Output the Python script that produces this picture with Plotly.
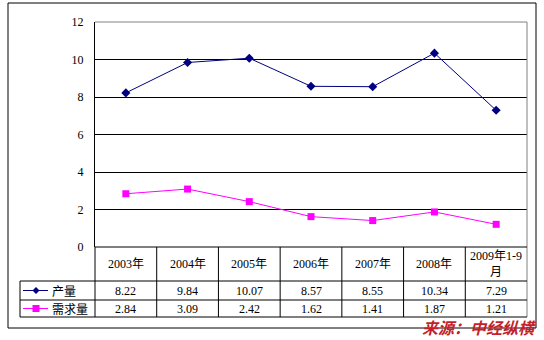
import plotly.graph_objects as go

categories = ["2003年", "2004年", "2005年", "2006年", "2007年", "2008年", "2009年1-9<br>月"]
production = [8.22, 9.84, 10.07, 8.57, 8.55, 10.34, 7.29]
demand = [2.84, 3.09, 2.42, 1.62, 1.41, 1.87, 1.21]
series_names = ["产量", "需求量"]
y_ticks = [0, 2, 4, 6, 8, 10, 12]

W, H = 544, 340
def px(x):
    return x / W
def py(y):
    return 1 - y / H

# layout in pixels
PL, PR, PT, PB = 95, 527, 22, 247
TBL_LEFT = 20
ROW1, ROW2, ROW3 = 281, 300, 317

FONT = "Liberation Serif, Noto Sans CJK SC, serif"
CJK = "Noto Sans CJK SC, sans-serif"
NAVY = "#000080"
MAG = "#ff00ff"

xs = list(range(len(categories)))

fig = go.Figure()
fig.add_trace(go.Scatter(x=xs, y=production, mode="lines+markers", name=series_names[0],
                         line=dict(color=NAVY, width=1),
                         marker=dict(symbol="diamond", size=7, color=NAVY)))
fig.add_trace(go.Scatter(x=xs, y=demand, mode="lines+markers", name=series_names[1],
                         line=dict(color=MAG, width=1),
                         marker=dict(symbol="square", size=7, color=MAG)))

shapes = []
# outer border
shapes.append(dict(type="rect", xref="paper", yref="paper", x0=px(8), x1=px(536), y0=py(328), y1=py(3),
                   line=dict(color="black", width=1)))
# plot top and right border (gray)
shapes.append(dict(type="line", xref="paper", yref="paper", x0=px(PL), x1=px(PR), y0=py(PT), y1=py(PT),
                   line=dict(color="#808080", width=1)))
shapes.append(dict(type="line", xref="paper", yref="paper", x0=px(PR), x1=px(PR), y0=py(ROW3), y1=py(PT),
                   line=dict(color="#808080", width=1)))
# table horizontal lines
for yy, x0 in [(PB, PL), (ROW1, TBL_LEFT), (ROW2, TBL_LEFT), (ROW3, TBL_LEFT)]:
    shapes.append(dict(type="line", xref="paper", yref="paper", x0=px(x0), x1=px(PR), y0=py(yy), y1=py(yy),
                       line=dict(color="black", width=1)))
# table vertical lines
ncat = len(categories)
for i in range(ncat):
    xx = PL + (PR - PL) * i / ncat
    shapes.append(dict(type="line", xref="paper", yref="paper", x0=px(xx), x1=px(xx), y0=py(ROW3), y1=py(PB),
                       line=dict(color="black", width=1)))
shapes.append(dict(type="line", xref="paper", yref="paper", x0=px(TBL_LEFT), x1=px(TBL_LEFT), y0=py(ROW3), y1=py(ROW1),
                   line=dict(color="black", width=1)))
# legend symbols
for (yy, color, sym) in [((ROW1 + ROW2) / 2, NAVY, "diamond"), ((ROW2 + ROW3) / 2, MAG, "square")]:
    shapes.append(dict(type="line", xref="paper", yref="paper", x0=px(23), x1=px(48), y0=py(yy), y1=py(yy),
                       line=dict(color=color, width=1)))
    cx = 36
    if sym == "diamond":
        path = f"M {px(cx-3.5)},{py(yy)} L {px(cx)},{py(yy-3.5)} L {px(cx+3.5)},{py(yy)} L {px(cx)},{py(yy+3.5)} Z"
        shapes.append(dict(type="path", xref="paper", yref="paper", path=path, fillcolor=color,
                           line=dict(color=color, width=0)))
    else:
        shapes.append(dict(type="rect", xref="paper", yref="paper", x0=px(cx-3.5), x1=px(cx+3.5),
                           y0=py(yy+3.5), y1=py(yy-3.5), fillcolor=color, line=dict(color=color, width=0)))

annotations = []
for i, c in enumerate(categories):
    annotations.append(dict(x=i, y=py((PB + ROW1) / 2), xref="x", yref="paper", text=c, showarrow=False,
                            font=dict(family=FONT, size=12, color="black"), xanchor="center", yanchor="middle"))
    annotations.append(dict(x=i, y=py((ROW1 + ROW2) / 2), xref="x", yref="paper", text=f"{production[i]:.2f}",
                            showarrow=False, font=dict(family=FONT, size=12, color="black"),
                            xanchor="center", yanchor="middle", borderpad=0))
    annotations.append(dict(x=i, y=py((ROW2 + ROW3) / 2), xref="x", yref="paper", text=f"{demand[i]:.2f}",
                            showarrow=False, font=dict(family=FONT, size=12, color="black"),
                            xanchor="center", yanchor="middle", borderpad=0))
for name, yy in zip(series_names, [(ROW1 + ROW2) / 2, (ROW2 + ROW3) / 2]):
    annotations.append(dict(x=px(51), y=py(yy), xref="paper", yref="paper", text=name, showarrow=False,
                            font=dict(family=CJK, size=12, color="black"), xanchor="left", yanchor="middle",
                            borderpad=0))
annotations.append(dict(x=px(538), y=py(339.5), xref="paper", yref="paper", text="<b><i>来源：中经纵横</i></b>",
                        showarrow=False, font=dict(family=CJK, size=16, color="#c41f2a"),
                        xanchor="right", yanchor="bottom", borderpad=0))

fig.update_layout(
    width=W, height=H, margin=dict(l=0, r=0, t=0, b=0, pad=0, autoexpand=False),
    paper_bgcolor="white", plot_bgcolor="white", showlegend=False,
    shapes=shapes, annotations=annotations,
    xaxis=dict(domain=[px(PL), px(PR)], range=[-0.5, ncat - 0.5], showgrid=False, zeroline=False,
               showticklabels=False, showline=False, fixedrange=True, automargin=False),
    yaxis=dict(domain=[py(PB), py(PT)], range=[0, 12], tickvals=y_ticks, showgrid=True, gridcolor="black",
               gridwidth=1, zeroline=False, showline=True, linecolor="black", linewidth=1,
               ticks="outside", ticklen=0, ticklabelstandoff=8, automargin=False,
               tickfont=dict(family=FONT, size=12, color="black"), fixedrange=True),
)

fig.write_html("out.html", config={"displayModeBar": False})
